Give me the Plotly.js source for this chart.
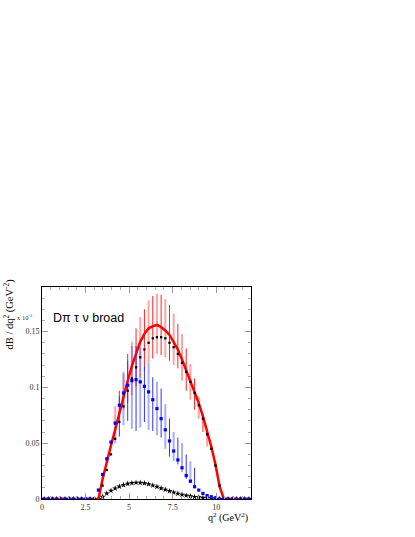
<!DOCTYPE html>
<html>
<head>
<meta charset="utf-8">
<script src="https://cdn.plot.ly/plotly-3.0.1.min.js"></script>
<style>
  html, body { margin: 0; padding: 0; background: #fff; }
  #graph { width: 415px; height: 537px; }
</style>
</head>
<body>
<div id="graph"></div>
<script>
// bin centres in q^2 (GeV^2)
var q = [0.12,0.36,0.60,0.84,1.08,1.32,1.56,1.80,2.04,2.28,2.52,2.76,3.00,3.24,3.48,3.72,3.96,4.20,4.44,4.68,
         4.92,5.16,5.40,5.64,5.88,6.12,6.36,6.60,6.84,7.08,7.32,7.56,7.80,8.04,8.28,8.52,8.76,9.00,9.24,9.48,
         9.72,9.96,10.20,10.44,10.68,10.92,11.16,11.40,11.64,11.88];

// solid red curve
var redLine = [0,0,0,0,0,0,0,0,0,0,0,0,0,0,0.018,0.034,0.048,0.062,0.077,0.091,
               0.106,0.119,0.130,0.141,0.148,0.153,0.155,0.156,0.154,0.151,0.147,0.141,0.134,0.125,0.115,0.106,0.096,0.086,0.074,0.061,
               0.047,0.031,0.011,0,0,0,0,0,0,0];

// black dotted (only drawn inside the kinematic range)
var blackDots = [null,null,null,null,null,null,null,null,null,null,null,null,null,null,0.012,0.026,0.040,0.054,0.069,0.083,
                 0.097,0.108,0.118,0.127,0.134,0.140,0.144,0.145,0.145,0.144,0.140,0.136,0.130,0.122,0.114,0.105,0.095,0.084,0.072,0.058,
                 0.045,0.030,0.012,null,null,null,null,null,null,null];

// blue dashed
var blueDash = [0,0,0,0,0,0,0,0,0,0,0,0,0,0.008,0.022,0.036,0.051,0.068,0.084,0.095,
                0.102,0.106,0.107,0.105,0.101,0.096,0.089,0.081,0.072,0.062,0.052,0.043,0.035,0.028,0.021,0.016,0.011,0.008,0.005,0.003,
                0.002,0.001,0,0,0,0,0,0,0,0];

// small black stars
var stars = [0,0,0,0,0,0,0,0,0,0,0,0,0,0,0.002,0.005,0.0075,0.0095,0.0112,0.0126,
             0.0137,0.0143,0.0147,0.0146,0.0141,0.0133,0.0122,0.0110,0.0097,0.0084,0.0071,0.0059,0.0048,0.0039,0.0031,0.0025,0.0019,0.0015,0.0011,0.0008,
             0.0005,0.0002,0,0,0,0,0,0,0,0];

// error bars (centre, half length)
var redBarQ    = [4.44,4.92,5.40,5.88,6.36,6.84,7.32,7.80,8.28,8.76,9.24];
var redBarMid  = [0.085,0.108,0.127,0.143,0.154,0.156,0.149,0.137,0.116,0.094,0.068];
var redBarErr  = [0.012,0.022,0.026,0.027,0.028,0.027,0.025,0.020,0.019,0.014,0.008];

var pinkBarQ   = [4.20,4.68,5.16,5.64,6.12,6.60,7.08,7.56,8.04,8.52,9.00,9.48];
var pinkBarMid = [0.075,0.096,0.117,0.136,0.150,0.157,0.153,0.143,0.127,0.105,0.082,0.053];
var pinkBarErr = [0.008,0.016,0.024,0.027,0.028,0.027,0.026,0.023,0.021,0.016,0.010,0.006];

var blueBarQ   = [4.44,4.92,5.40,5.88,6.36,6.84,7.32,7.80,8.28,8.76];
var blueBarMid = [0.074,0.097,0.099,0.094,0.085,0.077,0.055,0.043,0.029,0.020];
var blueBarErr = [0.018,0.027,0.038,0.025,0.024,0.022,0.017,0.012,0.011,0.008];

var lblueBarQ   = [4.20,4.68,5.16,5.64,6.12,6.60,7.08,7.56,8.04,8.52];
var lblueBarMid = [0.060,0.090,0.100,0.100,0.092,0.081,0.065,0.047,0.037,0.024];
var lblueBarErr = [0.010,0.024,0.037,0.036,0.030,0.024,0.020,0.013,0.013,0.010];

function bars(x, y, e, col, th) {
    return {
        x: x, y: y, type: 'scatter', mode: 'markers',
        marker: {size: 1, color: 'rgba(0,0,0,0)'},
        error_y: {type: 'data', array: e, visible: true, width: 0, thickness: th, color: col}
    };
}

var data = [
    bars(pinkBarQ, pinkBarMid, pinkBarErr, 'rgba(255,90,90,0.55)', 2),
    bars(lblueBarQ, lblueBarMid, lblueBarErr, 'rgba(90,90,255,0.5)', 2),
    bars(redBarQ, redBarMid, redBarErr, '#ff2020', 1),
    bars(blueBarQ, blueBarMid, blueBarErr, '#3030ff', 1),
    {x: q, y: stars, type: 'scatter', mode: 'markers', marker: {symbol: 'star', size: 4.5, color: '#000'}},
    {x: q, y: redLine, type: 'scatter', mode: 'lines', line: {color: '#ff0000', width: 2.5}},
    {x: q, y: blueDash, type: 'scatter', mode: 'markers', marker: {symbol: 'square', size: 3.2, color: '#0000ff'}},
    {x: q, y: blackDots, type: 'scatter', mode: 'markers', marker: {symbol: 'square', size: 2.3, color: '#000'}}
];

var tickFont = {family: 'Liberation Serif, serif', size: 8, color: '#333'};

var layout = {
    width: 415, height: 537,
    margin: {l: 42, r: 164, t: 287, b: 38},
    paper_bgcolor: '#fff', plot_bgcolor: '#fff',
    showlegend: false,
    hovermode: false,
    xaxis: {
        range: [0, 12], tickvals: [0, 2.5, 5, 7.5, 10], ticktext: ['0', '2.5', '5', '7.5', '10'],
        ticks: 'inside', ticklen: 6, tickcolor: '#999', tickwidth: 1,
        minor: {dtick: 0.5, tick0: 0, ticks: 'inside', ticklen: 3, tickcolor: '#aaa', showgrid: false},
        showline: true, linecolor: '#000', linewidth: 1, mirror: 'allticks',
        showgrid: false, zeroline: false, tickfont: tickFont
    },
    yaxis: {
        range: [0, 0.19], tickvals: [0, 0.05, 0.1, 0.15], ticktext: ['0', '0.05', '0.1', '0.15'],
        ticks: 'inside', ticklen: 6, tickcolor: '#999', tickwidth: 1,
        minor: {dtick: 0.01, tick0: 0, ticks: 'inside', ticklen: 3, tickcolor: '#aaa', showgrid: false},
        showline: true, linecolor: '#000', linewidth: 1, mirror: 'allticks',
        showgrid: false, zeroline: false, tickfont: tickFont
    },
    annotations: [
        {xref: 'paper', yref: 'paper', x: -0.035, y: 0.858, xanchor: 'right', yanchor: 'middle',
         text: 'x 10<sup>-3</sup>', showarrow: false,
         font: {family: 'Liberation Serif, serif', size: 6.5, color: '#333'}},
        {xref: 'paper', yref: 'paper', x: 0.045, y: 0.856, xanchor: 'left', yanchor: 'middle',
         text: 'D\u03c0 \u03c4 \u03bd broad', showarrow: false,
         font: {family: 'Liberation Sans, Arial, sans-serif', size: 12.5, color: '#000'}},
        {xref: 'paper', yref: 'paper', x: -0.16, y: 1.05, xanchor: 'center', yanchor: 'top',
         text: 'dB / dq<sup>2</sup> (GeV<sup>-2</sup>)', showarrow: false, textangle: -90,
         font: {family: 'Liberation Serif, serif', size: 10.5, color: '#000'}},
        {xref: 'paper', yref: 'paper', x: 0.995, y: -0.045, xanchor: 'right', yanchor: 'top',
         text: 'q<sup>2</sup> (GeV<sup>2</sup>)', showarrow: false,
         font: {family: 'Liberation Serif, serif', size: 10, color: '#000'}}
    ]
};

Plotly.newPlot('graph', data, layout, {staticPlot: true, displayModeBar: false});
</script>
</body>
</html>
